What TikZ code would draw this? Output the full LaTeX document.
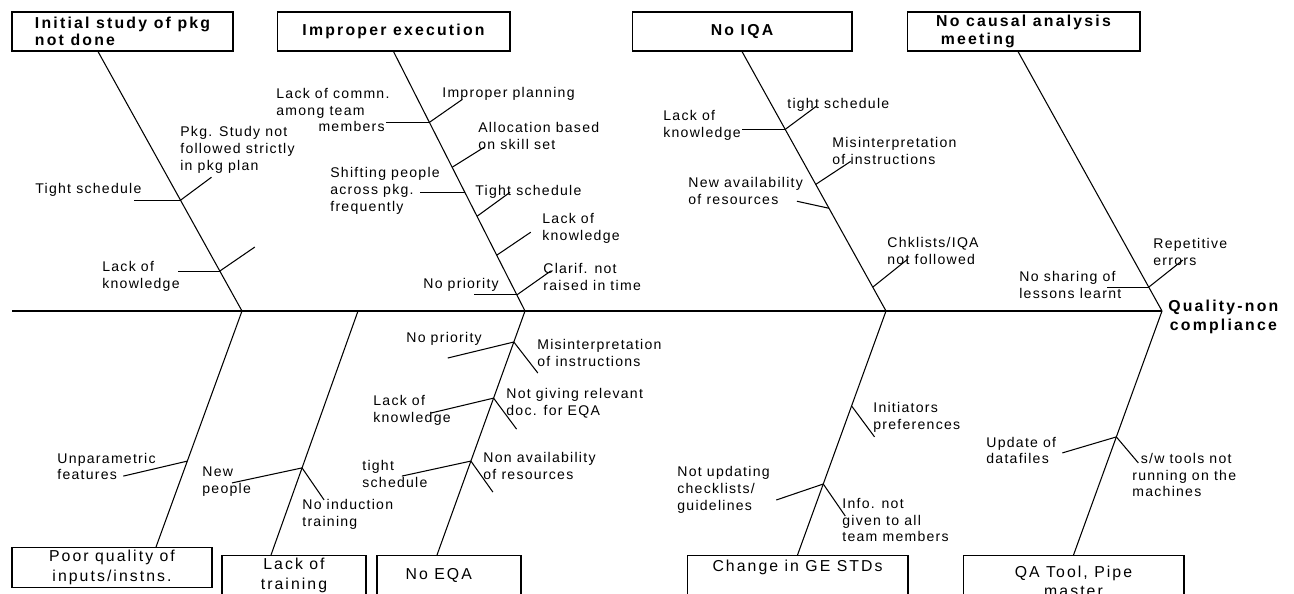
\documentclass[tikz,border=0pt]{standalone}
\usepackage{fontspec}
\usepackage{tikz}
\usetikzlibrary{positioning, calc}
\newfontfamily\lblfont[LetterSpace=9]{Liberation Sans}
\newfontfamily\ttlfont[LetterSpace=14]{Liberation Sans}
\newfontfamily\boxfont[LetterSpace=13]{Liberation Sans}

\begin{document}
\begin{tikzpicture}[
  x=0.02cm, y=-0.02cm,
  catbox/.style={draw, line width=0.6pt, minimum height=0.78cm, inner sep=0pt,
                 align=left, font=\ttlfont\bfseries\fontsize{9}{10}\selectfont},
  effbox/.style={draw, line width=0.6pt, minimum height=0.8cm, inner sep=0pt,
                 anchor=north, align=center, font=\boxfont\fontsize{9}{11}\selectfont},
  head/.style={anchor=west, inner sep=0pt, align=center,
               font=\ttlfont\bfseries\fontsize{9}{10.4}\selectfont},
  lbl/.style={anchor=west, inner sep=0pt, align=left,
              font=\lblfont\fontsize{8}{9.6}\selectfont},
  bone/.style={line width=0.6pt},
  spine/.style={line width=0.8pt}
]
\path[use as bounding box, clip] (0,0) rectangle (1294,593);

% causes (top) and effects boxes (bottom)
\node[catbox, minimum width=4.42cm] (c1) at (122.5,31.5) {Initial study of pkg\\not done};
\node[catbox, minimum width=4.66cm] (c2) at (393.5,31.5) {Improper execution};
\node[catbox, minimum width=4.4cm]  (c3) at (742,31.5)   {No IQA};
\node[catbox, minimum width=4.66cm] (c4) at (1023.5,31.5) {No causal analysis\\\hspace*{0.3em}meeting};

\node[effbox, minimum width=4.0cm]  (bx1) at (112,547)    {Poor quality of\\inputs/instns.};
\node[effbox, minimum width=2.88cm] (bx2) at (294,555)    {Lack of\\training};
\node[effbox, minimum width=2.88cm] (bx3) at (449,555)    {No EQA\hspace*{1.3em}};
\node[effbox, minimum width=4.42cm] (bx4) at (797.5,555)  {Change in GE STDs\\\mbox{}};
\node[effbox, minimum width=4.42cm, minimum height=1.04cm] (bx5) at (1073.5,555) {QA Tool, Pipe\\master};

% backbone
\coordinate (tail) at (12,311);
\coordinate (tip)  at (1162,311);
\coordinate (j1) at (242,311);
\coordinate (j2) at (525,311);
\coordinate (j3) at (886,311);
\coordinate (j5) at (358,311);
\draw[spine] (tail) -- (tip);
\node[head] (effect) at (1168,317) {Quality-non\\compliance};

% main bones
\draw[bone] ($(c1.south)+(-24.5,0)$) -- (j1)
  coordinate[pos=.573] (p11) coordinate[pos=.846] (p12);
\draw[bone] (c2.south) -- (j2)
  coordinate[pos=.273] (p21) coordinate[pos=.446] (p22) coordinate[pos=.542] (p23)
  coordinate[pos=.635] (p24) coordinate[pos=.785] (p25) coordinate[pos=.938] (p26);
\draw[bone] (c3.south) -- (j3)
  coordinate[pos=.3] (p31) coordinate[pos=.512] (p32) coordinate[pos=.604] (p33)
  coordinate[pos=.908] (p34);
\draw[bone] ($(c4.south)+(-5.5,0)$) -- (tip) coordinate[pos=.908] (p41);

\draw[bone] (j1) -- ($(bx1.north)+(44,0)$) coordinate[pos=.636] (q11);
\draw[bone] (j5) -- ($(bx2.north)+(-23,0)$) coordinate[pos=.643] (q21);
\draw[bone] (j2) -- ($(bx3.north)+(-12,0)$)
  coordinate[pos=.127] (q31) coordinate[pos=.357] (q32) coordinate[pos=.615] (q33);
\draw[bone] (j3) -- (bx4.north) coordinate[pos=.389] (q41) coordinate[pos=.709] (q42);
\draw[bone] (tip) -- (bx5.north) coordinate[pos=.516] (q51);

% small bones
\foreach \p/\dx/\dy in {p11/-47/0, p11/31/-23, p12/-42/0, p12/35/-24,
    p21/-43/0, p21/33/-23, p22/32/-20, p23/-45/0, p24/33/-24, p25/34/-23,
    p26/-43/0, p26/34/-24, p31/-43/0, p31/31/-23, p32/35/-23, p33/-32/-7,
    p34/35/-28, p41/-42/0, p41/34/-27,
    q11/-64/15, q21/-70/15, q21/22/32, q31/-66/16, q31/24/31, q32/-63/15,
    q32/23/31, q33/-69/15, q33/22/31, q41/23/31, q42/-47/16, q42/22/32,
    q51/-54/16, q51/22/26}
  \draw[bone] (\p) -- ++(\dx,\dy);

% sub-causes
\node[lbl] (l11) at (35,190)    {Tight schedule};
\node[lbl] (l12) at (180,150)   {Pkg. Study not\\followed strictly\\in pkg plan};
\node[lbl] (l13) at (102,276.5) {Lack of\\knowledge};

\node[lbl] (l21) at (276,110) {Lack of commn.\\among team\\\hspace*{3em}members};
\node[lbl] (l22) at (442,94)  {Improper planning};
\node[lbl] (l23) at (478,136) {Allocation based\\on skill set};
\node[lbl] (l24) at (330,191) {Shifting people\\across pkg.\\frequently};
\node[lbl] (l25) at (475,192) {Tight schedule};
\node[lbl] (l26) at (542,228) {Lack of\\knowledge};
\node[lbl] (l27) at (423,285) {No priority};
\node[lbl] (l28) at (543,277) {Clarif. not\\raised in time};

\node[lbl] (l31) at (663,125) {Lack of\\knowledge};
\node[lbl] (l32) at (787,105) {tight schedule};
\node[lbl] (l33) at (832,151) {Misinterpretation\\of instructions};
\node[lbl] (l34) at (688,191) {New availability\\of resources};
\node[lbl] (l35) at (887,251) {Chklists/IQA\\not followed};

\node[lbl] (l41) at (1019,285) {No sharing of\\lessons learnt};
\node[lbl] (l42) at (1153,252) {Repetitive\\errors};

\node[lbl] (m11) at (57,466.5)  {Unparametric\\features};
\node[lbl] (m21) at (202,481.5) {New\\people};
\node[lbl] (m22) at (302,514.5) {No induction\\training};

\node[lbl] (m31) at (406,339)   {No priority};
\node[lbl] (m32) at (537,353)   {Misinterpretation\\of instructions};
\node[lbl] (m33) at (373,410.5) {Lack of\\knowledge};
\node[lbl] (m34) at (506,403)   {Not giving relevant\\doc. for EQA};
\node[lbl] (m35) at (362,474)   {tight\\schedule};
\node[lbl] (m36) at (483,466)   {Non availability\\of resources};

\node[lbl] (m41) at (873,417) {Initiators\\preferences};
\node[lbl] (m42) at (677,490) {Not updating\\checklists/\\guidelines};
\node[lbl] (m43) at (842,520) {Info. not\\given to all\\team members};

\node[lbl] (m51) at (986,450.5) {Update of\\datafiles};
\node[lbl] (m52) at (1132,475)  {\hspace*{0.6em}s/w tools not\\running on the\\machines};
\end{tikzpicture}
\end{document}
